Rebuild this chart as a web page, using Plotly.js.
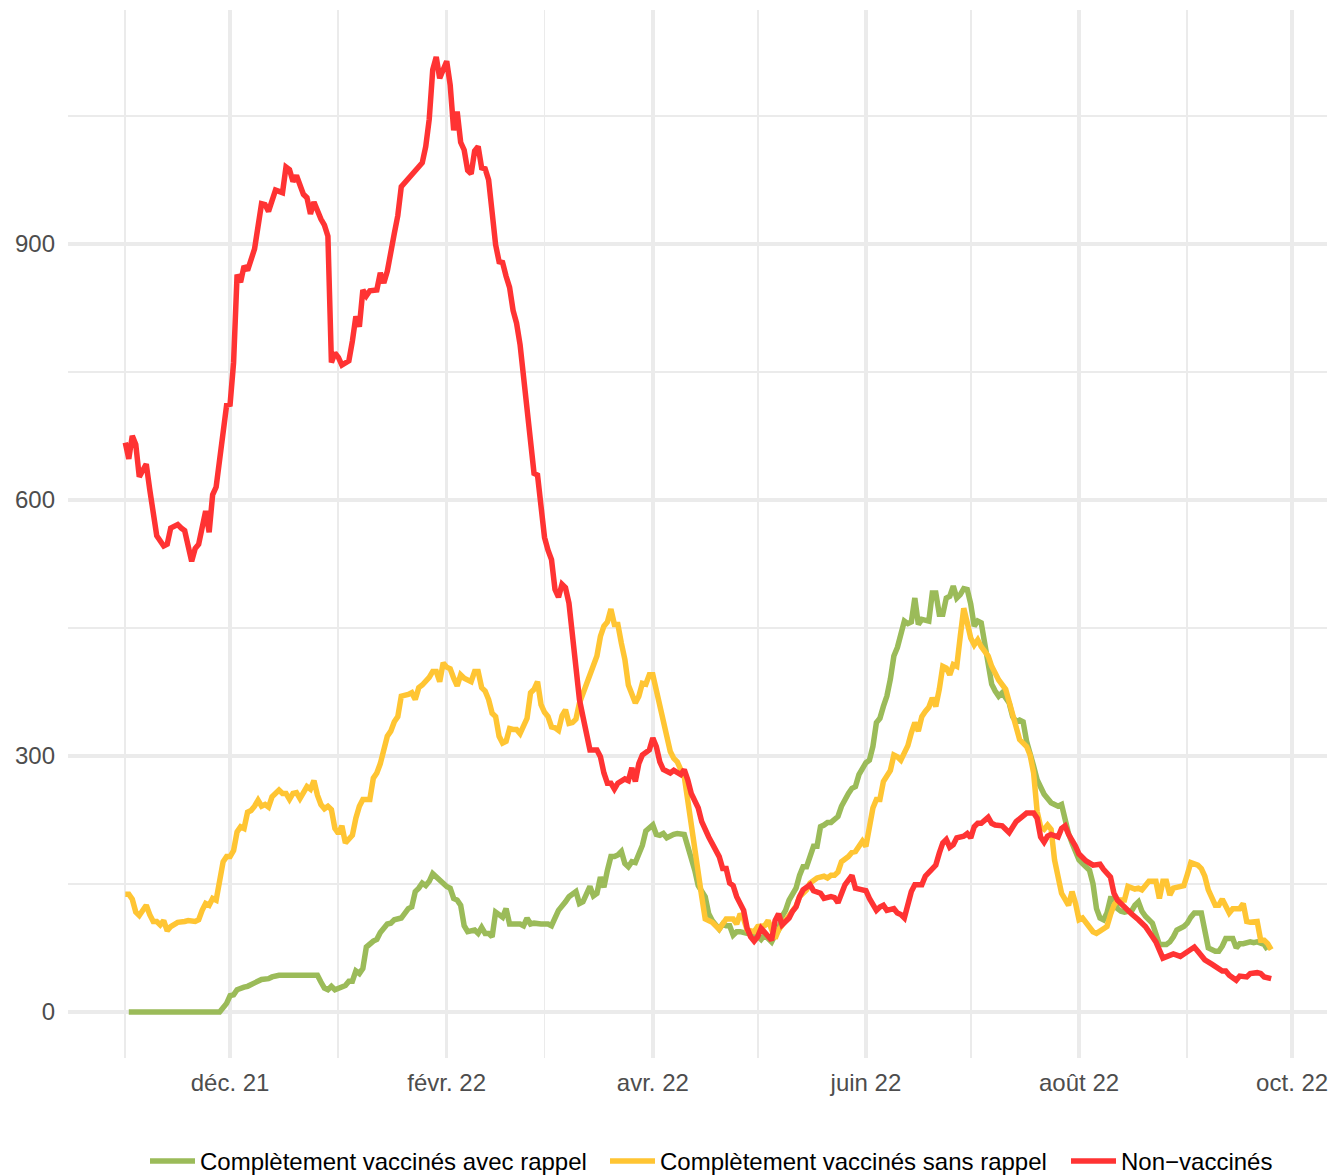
<!DOCTYPE html>
<html>
<head>
<meta charset="utf-8">
<script src="https://cdn.plot.ly/plotly-3.0.1.min.js"></script>
<style>
  html, body { margin: 0; padding: 0; background: #ffffff; }
  #chart { width: 1333px; height: 1175px; }
</style>
</head>
<body>
<div id="chart"></div>
<script>
// ---- Data (day offsets counted from the first date) ----
const startDate = "2021-11-01";

const seriesNames = [
  "Complètement vaccinés avec rappel",
  "Complètement vaccinés sans rappel",
  "Non\u2212vaccinés"
];
const seriesColors = ["#9BBB59", "#FFC533", "#FF3333"];

const greenDays = [
  1,27,29,30,31,32,34,35,37,39,
  41,42,44,55,56,57,58,59,60,62,
  63,64,65,66,67,68,69,71,72,73,
  75,76,77,79,80,81,82,83,84,85,
  86,87,88,89,90,91,92,93,94,95,
  96,97,98,100,101,102,103,104,105,106,
  107,108,109,110,111,113,114,115,116,117,
  119,121,122,123,124,126,127,129,130,131,
  132,133,134,135,136,137,138,139,140,141,
  142,143,144,145,146,147,148,149,151,152,
  153,154,155,157,158,160,161,162,163,164,
  166,167,168,169,170,171,172,173,174,175,
  176,178,179,181,182,183,184,185,186,187,
  188,189,190,191,192,193,194,195,196,197,
  198,199,200,201,202,204,205,206,207,208,
  209,210,211,212,213,214,215,216,217,218,
  219,220,221,222,223,224,225,226,227,228,
  230,231,232,233,234,235,236,237,238,239,
  240,241,242,243,244,245,246,247,248,249,
  250,251,252,253,254,255,256,257,258,259,
  260,261,262,263,264,265,266,267,268,269,
  270,271,272,273,274,275,276,277,278,279,
  280,281,282,283,284,285,286,287,288,289,
  290,291,292,294,295,296,298,299,300,301,
  303,304,305,306,308,309,310,312,313,314,
  315,317,318,319,320,322,323,324,326,327
];
const greenValues = [
  0,0,10,19,20,26,29,30,34,38,
  39,41,43,43,35,28,26,30,26,30,
  31,36,36,48,45,51,76,83,85,93,
  103,104,108,110,115,121,123,141,145,151,
  148,153,162,158,155,151,147,145,133,131,
  125,101,94,96,92,99,92,92,88,117,
  114,111,121,103,103,103,101,110,103,104,
  103,103,101,109,119,129,135,141,127,129,
  137,147,136,139,158,146,166,182,182,184,
  188,174,170,176,175,186,195,212,219,208,
  207,209,204,208,209,208,196,180,166,148,
  135,115,107,101,97,103,101,101,90,94,
  94,92,94,89,85,90,86,82,90,96,
  112,119,131,139,145,160,170,170,180,194,
  194,217,219,222,222,229,241,250,256,262,
  264,278,284,292,295,311,339,344,358,370,
  390,417,427,440,458,455,457,485,454,460,
  458,491,491,466,466,485,487,499,485,489,
  496,495,478,452,458,456,432,413,384,376,
  370,374,368,362,346,340,342,340,317,299,
  288,272,262,255,250,245,243,241,243,225,
  209,198,188,178,174,170,166,150,121,110,
  108,116,133,133,121,118,117,118,118,125,
  129,118,112,104,90,79,79,82,88,96,
  100,104,111,116,116,92,75,71,71,77,
  86,86,75,80,80,82,81,82,79,73
];

const yellowDays = [
  0,1,2,3,4,5,6,7,8,9,
  10,11,12,13,15,17,18,20,21,22,
  23,24,25,26,27,28,29,30,31,32,
  33,34,35,36,37,38,39,40,41,42,
  44,45,46,47,48,49,50,51,52,53,
  54,55,56,57,58,59,60,61,62,63,
  64,65,66,67,68,70,71,72,73,74,
  75,76,77,78,79,81,82,83,84,85,
  87,88,89,90,91,92,93,94,95,96,
  97,99,100,101,102,103,104,105,106,107,
  108,109,110,111,112,113,114,115,116,117,
  118,119,120,121,122,123,124,125,126,127,
  128,129,130,131,132,133,135,136,137,138,
  139,140,141,142,143,144,145,146,147,148,
  149,150,151,152,153,154,155,156,157,158,
  159,160,161,162,163,164,165,166,168,169,
  170,171,172,174,175,176,177,178,180,181,
  182,183,184,185,186,187,189,190,191,192,
  193,195,196,197,198,200,201,202,203,204,
  205,207,208,209,210,211,212,213,214,215,
  216,217,218,219,220,221,222,223,224,225,
  226,227,228,229,230,231,232,233,234,235,
  236,237,238,239,240,241,242,243,244,245,
  246,247,248,249,250,252,253,254,255,256,
  258,259,260,261,262,263,264,265,266,267,
  268,270,271,272,273,274,275,277,278,280,
  281,282,283,284,286,287,289,290,291,293,
  294,295,296,297,298,299,300,301,302,303,
  304,305,307,308,309,310,312,313,314,315,
  316,317,319,320,321,322,324,325,326,327,
  328
];
const yellowValues = [
  138,138,132,117,113,119,125,114,106,106,
  102,107,95,100,105,106,107,106,108,119,
  127,125,133,131,159,176,182,182,189,211,
  217,215,234,236,241,248,241,243,240,252,
  260,256,256,249,256,257,250,256,264,261,
  271,254,243,238,241,237,215,209,218,198,
  202,207,227,241,249,249,274,280,291,307,
  323,329,340,346,370,372,374,366,380,383,
  392,399,399,387,409,404,402,391,382,395,
  391,387,399,399,380,376,366,350,346,323,
  315,317,332,331,331,326,335,344,374,378,
  387,360,351,346,334,333,330,347,354,338,
  339,343,362,374,381,395,417,440,452,457,
  472,454,454,432,413,383,372,362,370,385,
  384,395,395,378,358,342,325,305,297,293,
  284,276,248,217,190,162,135,109,105,101,
  97,103,109,109,103,115,109,96,94,100,
  101,101,107,96,86,96,107,112,117,124,
  135,143,151,155,157,159,157,160,160,164,
  176,182,187,188,194,200,194,213,239,249,
  249,270,277,283,301,299,295,305,312,327,
  339,329,346,352,357,368,358,378,405,403,
  395,407,405,440,473,456,438,430,436,428,
  423,417,405,395,389,378,362,346,335,319,
  311,301,280,235,217,214,219,214,178,155,
  139,125,141,127,108,110,104,94,92,98,
  100,114,125,131,131,147,144,145,143,153,
  153,153,133,153,153,137,145,146,148,148,
  161,175,172,168,159,143,125,125,132,123,
  116,121,121,127,106,105,106,84,84,80,
  73
];

const redDays = [
  0,1,2,3,4,6,7,8,9,11,
  12,13,15,16,17,19,20,21,23,24,
  25,26,27,29,30,31,32,33,34,35,
  37,39,40,41,43,45,46,47,48,49,
  51,52,53,54,56,57,58,59,60,61,
  62,63,64,65,66,67,68,69,70,72,
  73,74,75,77,78,79,82,84,85,86,
  87,88,89,90,91,92,93,94,95,96,
  97,98,99,100,101,102,103,104,105,106,
  107,108,109,110,111,112,113,114,115,116,
  117,118,119,120,121,122,123,124,125,126,
  127,128,129,130,131,132,133,135,136,137,
  138,139,140,141,143,144,145,146,147,148,
  150,151,152,153,154,156,157,159,160,161,
  162,164,165,167,169,170,171,172,173,174,
  175,176,177,178,179,180,181,182,183,184,
  185,186,187,188,189,190,191,192,193,194,
  196,197,199,200,202,203,204,205,206,208,
  209,211,212,213,215,216,217,218,220,221,
  222,223,224,225,226,228,229,230,232,233,
  234,235,236,237,238,240,241,242,243,244,
  245,247,248,249,251,252,253,255,256,257,
  258,260,261,262,263,264,265,267,268,269,
  270,272,273,275,277,279,280,282,283,284,
  285,286,287,288,290,292,294,295,297,298,
  300,302,304,306,307,309,311,312,314,315,
  316,318,319,321,322,324,325,326,328
];
const redValues = [
  667,648,675,665,627,642,612,585,558,546,
  548,567,571,567,564,528,543,548,587,562,
  606,615,648,711,712,761,864,855,874,869,
  894,947,946,938,963,960,990,987,973,980,
  958,954,935,949,929,922,909,761,772,767,
  758,760,763,786,815,803,846,839,845,846,
  866,854,868,912,933,967,981,992,995,1014,
  1046,1104,1119,1094,1106,1114,1086,1033,1055,1019,
  1010,986,982,1009,1014,989,988,975,937,899,
  879,878,862,849,822,807,782,742,707,657,
  631,629,598,556,541,530,495,486,501,497,
  479,440,393,366,346,327,307,307,299,280,
  268,268,261,268,273,271,286,270,291,301,
  307,321,311,293,284,280,283,278,284,272,
  256,239,223,205,190,182,168,168,151,148,
  135,127,119,98,88,83,88,98,94,88,
  84,107,115,102,105,110,118,123,135,143,
  149,142,139,133,135,134,128,139,149,160,
  145,143,142,133,119,123,125,119,121,116,
  114,110,129,141,149,149,159,163,172,186,
  198,202,193,196,204,206,209,204,217,221,
  221,228,221,219,218,214,210,223,227,229,
  233,233,227,205,199,206,208,205,215,218,
  208,194,185,177,172,173,167,158,139,131,
  127,121,117,115,108,100,88,82,63,65,
  68,65,71,76,71,61,56,53,48,48,
  43,37,42,41,45,46,45,41,39
];

// Axis ticks
const xTickVals = ["2021-12-01","2022-02-01","2022-04-01","2022-06-01","2022-08-01","2022-10-01"];
const xTickText = ["déc. 21","févr. 22","avr. 22","juin 22","août 22","oct. 22"];
const xMinorVals = ["2021-11-01","2022-01-01","2022-03-01","2022-05-01","2022-07-01","2022-09-01"];
const yTickVals = [0, 300, 600, 900];
const yTickText = ["0", "300", "600", "900"];
const yMinorVals = [150, 450, 750, 1050];

// ---- Build traces ----
function dayToDate(d) {
  const t = new Date(startDate + "T00:00:00Z");
  t.setUTCDate(t.getUTCDate() + d);
  return t.toISOString().slice(0, 10);
}
const allDays = [greenDays, yellowDays, redDays];
const allValues = [greenValues, yellowValues, redValues];
const legendIds = ["legend", "legend2", "legend3"];

const traces = allDays.map((days, i) => ({
  type: "scatter",
  mode: "lines",
  name: seriesNames[i],
  legend: legendIds[i],
  x: days.map(dayToDate),
  y: allValues[i],
  line: { color: seriesColors[i], width: 5.5, shape: "linear" },
  hoverinfo: "skip"
}));

const FONT = "Liberation Sans, Arial, Helvetica, sans-serif";
const gridColor = "#EBEBEB";

function legendAt(px) {
  return {
    orientation: "h",
    xref: "container",
    yref: "container",
    x: px / 1333,
    xanchor: "left",
    y: 0.0115,
    yanchor: "middle",
    itemwidth: 45,
    font: { family: FONT, size: 24, color: "#000000" },
    bgcolor: "rgba(0,0,0,0)"
  };
}

const layout = {
  width: 1333,
  height: 1175,
  margin: { l: 68, r: 6, t: 10, b: 117, pad: 0 },
  paper_bgcolor: "#ffffff",
  plot_bgcolor: "#ffffff",
  font: { family: FONT, size: 24, color: "#000000" },
  showlegend: true,
  legend: legendAt(145),
  legend2: legendAt(605),
  legend3: legendAt(1066),
  xaxis: {
    type: "date",
    range: ["2021-10-15 14:24", "2022-10-10 23:30"],
    tickmode: "array",
    tickvals: xTickVals,
    ticktext: xTickText,
    showgrid: true,
    gridcolor: gridColor,
    gridwidth: 3.5,
    zeroline: false,
    showline: false,
    ticks: "",
    ticklabelstandoff: 8,
    tickfont: { family: FONT, size: 24, color: "#4D4D4D" },
    minor: {
      tickmode: "array",
      tickvals: xMinorVals,
      showgrid: true,
      gridcolor: gridColor,
      gridwidth: 1.8,
      ticks: ""
    }
  },
  yaxis: {
    range: [-54, 1174],
    tickmode: "array",
    tickvals: yTickVals,
    ticktext: yTickText,
    showgrid: true,
    gridcolor: gridColor,
    gridwidth: 3.5,
    zeroline: false,
    showline: false,
    ticks: "",
    ticklabelstandoff: 12,
    tickfont: { family: FONT, size: 24, color: "#4D4D4D" },
    minor: {
      tickmode: "array",
      tickvals: yMinorVals,
      showgrid: true,
      gridcolor: gridColor,
      gridwidth: 1.8,
      ticks: ""
    }
  }
};

Plotly.newPlot("chart", traces, layout, { staticPlot: true, displayModeBar: false });
</script>
</body>
</html>
